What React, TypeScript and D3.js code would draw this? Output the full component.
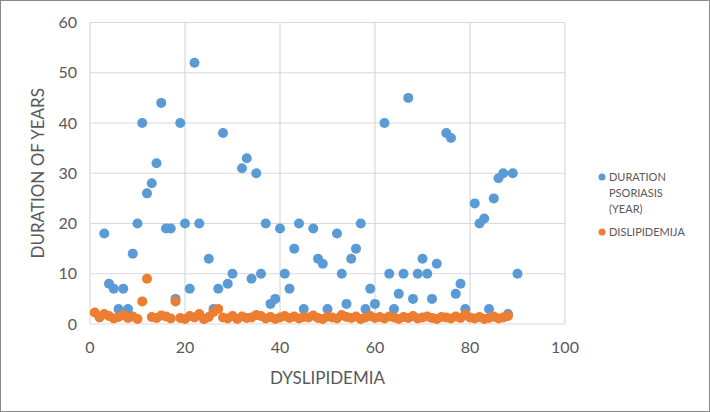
import React, { useRef, useEffect } from "react";
import * as d3 from "d3";

// Duration of psoriasis (years) per patient
const psoriasisX = [3, 4, 5, 6, 7, 8, 9, 10, 11, 12, 13, 14, 15, 16, 17, 18, 19, 20, 21, 22, 23, 24, 25, 26, 27, 28, 29, 30, 32, 33, 34, 35, 36, 37, 38, 39, 40, 41, 42, 43, 44, 45, 47, 48, 49, 50, 52, 53, 54, 55, 56, 57, 58, 59, 60, 62, 63, 64, 65, 66, 67, 68, 69, 70, 71, 72, 73, 75, 76, 77, 78, 79, 81, 82, 83, 84, 85, 86, 87, 88, 89, 90];
const psoriasisY = [18, 8, 7, 3, 7, 3, 14, 20, 40, 26, 28, 32, 44, 19, 19, 5, 40, 20, 7, 52, 20, 1, 13, 3, 7, 38, 8, 10, 31, 33, 9, 30, 10, 20, 4, 5, 19, 10, 7, 15, 20, 3, 19, 13, 12, 3, 18, 10, 4, 13, 15, 20, 3, 7, 4, 40, 10, 3, 6, 10, 45, 5, 10, 13, 10, 5, 12, 38, 37, 6, 8, 3, 24, 20, 21, 3, 25, 29, 30, 2, 30, 10];

// Dislipidemija values per patient (1..88)
const dislipidemija = [
  2.3, 1.3, 2.0, 1.6, 1.1, 1.4, 1.8, 1.2, 1.5, 1.0,
  4.5, 9.0, 1.4, 1.2, 1.7, 1.5, 1.1, 4.5, 1.2, 1.0,
  1.6, 1.3, 2.0, 1.0, 1.4, 2.4, 3.0, 1.3, 1.1, 1.6,
  1.0, 1.5, 1.2, 1.3, 1.8, 1.6, 1.1, 1.4, 1.0, 1.3,
  1.6, 1.2, 1.5, 1.1, 1.4, 1.3, 1.7, 1.2, 1.0, 1.5,
  1.3, 1.1, 1.8, 1.4, 1.2, 1.5, 1.0, 1.3, 1.6, 1.2,
  1.4, 1.1, 1.5, 1.3, 1.0, 1.4, 1.2, 1.6, 1.1, 1.3,
  1.5, 1.2, 1.0, 1.4, 1.3, 1.1, 1.5, 1.2, 1.9, 1.3,
  1.1, 1.4, 1.0, 1.2, 1.5, 1.1, 1.3, 1.6,
];

const xTicks = [0, 20, 40, 60, 80, 100];
const yTicks = [0, 10, 20, 30, 40, 50, 60];

const FONT = "Lato, 'Open Sans', sans-serif";

const App = () => {
  const svgRef = useRef<SVGSVGElement>(null);

  useEffect(() => {
    const svg = d3.select(svgRef.current);
    svg.selectAll("*").remove();

    const width = 710;
    const height = 412;
    const margin = { top: 22.5, right: 145, bottom: 88, left: 90 };

    const x = d3.scaleLinear().domain([0, 100]).range([margin.left, width - margin.right]);
    const y = d3.scaleLinear().domain([0, 60]).range([height - margin.bottom, margin.top]);

    // outer frame
    svg
      .append("rect")
      .attr("x", 0.5)
      .attr("y", 0.5)
      .attr("width", width - 1)
      .attr("height", height - 1)
      .attr("fill", "white")
      .attr("stroke", "#8a8a8a");

    // grid
    svg
      .append("g")
      .selectAll("line")
      .data(yTicks)
      .join("line")
      .attr("x1", x(0))
      .attr("x2", x(100))
      .attr("y1", (d) => y(d))
      .attr("y2", (d) => y(d))
      .attr("stroke", "#d9d9d9")
      .attr("stroke-width", 1.2);

    svg
      .append("g")
      .selectAll("line")
      .data(xTicks)
      .join("line")
      .attr("x1", (d) => x(d))
      .attr("x2", (d) => x(d))
      .attr("y1", y(0))
      .attr("y2", y(60))
      .attr("stroke", "#d9d9d9")
      .attr("stroke-width", 1.2);

    // tick labels
    svg
      .append("g")
      .selectAll("text")
      .data(yTicks)
      .join("text")
      .attr("x", x(0) - 13)
      .attr("y", (d) => y(d) + 5.5)
      .attr("text-anchor", "end")
      .attr("fill", "#595959")
      .style("font-family", FONT)
      .style("font-size", "16px")
      .text((d) => d);

    svg
      .append("g")
      .selectAll("text")
      .data(xTicks)
      .join("text")
      .attr("x", (d) => x(d))
      .attr("y", y(0) + 29)
      .attr("text-anchor", "middle")
      .attr("fill", "#595959")
      .style("font-family", FONT)
      .style("font-size", "16px")
      .text((d) => d);

    // axis titles
    svg
      .append("text")
      .attr("transform", `translate(44,${(y(0) + y(60)) / 2}) rotate(-90)`)
      .attr("text-anchor", "middle")
      .attr("fill", "#595959")
      .style("font-family", FONT)
      .style("font-size", "17px")
      .text("DURATION OF YEARS");

    svg
      .append("text")
      .attr("x", (x(0) + x(100)) / 2)
      .attr("y", y(0) + 60)
      .attr("text-anchor", "middle")
      .attr("fill", "#595959")
      .style("font-family", FONT)
      .style("font-size", "17px")
      .text("DYSLIPIDEMIA");

    // orange series (drawn first, blue on top where it peeks out)
    svg
      .append("g")
      .selectAll("circle")
      .data(psoriasisX.map((d, i) => [d, psoriasisY[i]]))
      .join("circle")
      .attr("cx", (d) => x(d[0]))
      .attr("cy", (d) => y(d[1]))
      .attr("r", 5)
      .attr("fill", "#5b9bd5");

    svg
      .append("g")
      .selectAll("circle")
      .data(dislipidemija)
      .join("circle")
      .attr("cx", (d, i) => x(i + 1))
      .attr("cy", (d) => y(d))
      .attr("r", 5)
      .attr("fill", "#ed7d31");

    // legend
    const legend = svg.append("g").attr("transform", "translate(602,177)");
    legend.append("circle").attr("cx", 0).attr("cy", 0).attr("r", 3.5).attr("fill", "#5b9bd5");
    ["DURATION", "PSORIASIS", "(YEAR)"].forEach((t, i) => {
      legend
        .append("text")
        .attr("x", 7)
        .attr("y", 4 + i * 16)
        .attr("fill", "#595959")
        .style("font-family", FONT)
        .style("font-size", "11px")
        .text(t);
    });
    legend.append("circle").attr("cx", 0).attr("cy", 55).attr("r", 3.5).attr("fill", "#ed7d31");
    legend
      .append("text")
      .attr("x", 7)
      .attr("y", 59)
      .attr("fill", "#595959")
      .style("font-family", FONT)
      .style("font-size", "11px")
      .text("DISLIPIDEMIJA");
  }, []);

  return (
    <svg
      ref={svgRef}
      width={710}
      height={412}
      style={{ position: "absolute", left: 0, top: 0 }}
    ></svg>
  );
};

export default App;
